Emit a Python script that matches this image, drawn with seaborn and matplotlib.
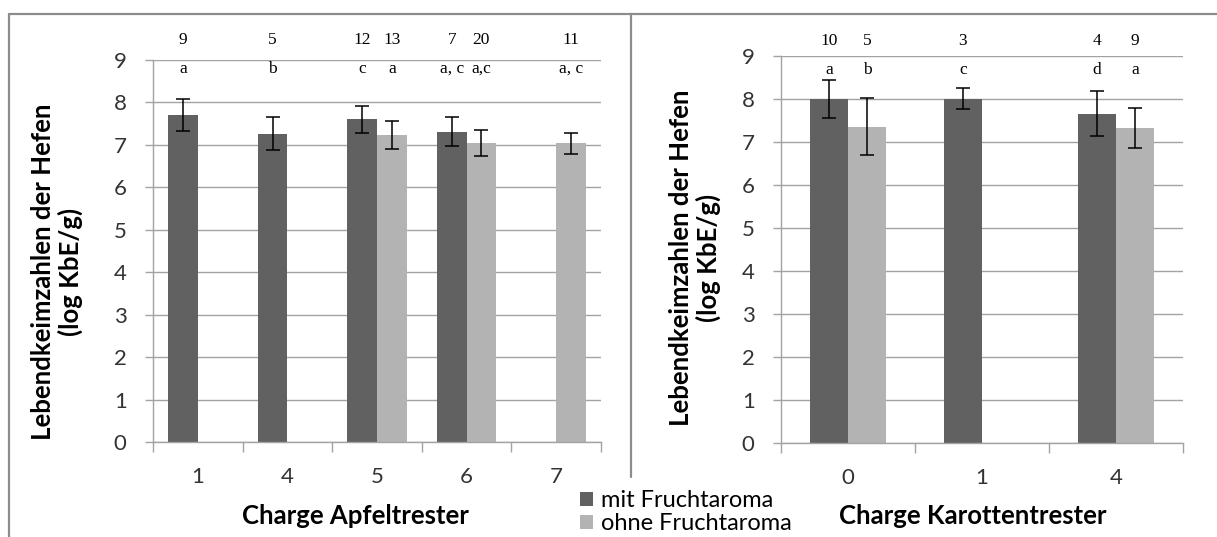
import numpy as np
import pandas as pd
import matplotlib
matplotlib.use("Agg")
import matplotlib.pyplot as plt
from matplotlib.lines import Line2D
import seaborn as sns

# ---- data -------------------------------------------------------------
aroma_levels = ["mit Fruchtaroma", "ohne Fruchtaroma"]

apfel_order = ["1", "4", "5", "6", "7"]
apfel_charge = ["1", "4", "5", "5", "6", "6", "7"]
apfel_aroma = ["mit Fruchtaroma", "mit Fruchtaroma", "mit Fruchtaroma", "ohne Fruchtaroma",
               "mit Fruchtaroma", "ohne Fruchtaroma", "ohne Fruchtaroma"]
apfel_mean = [7.70, 7.26, 7.60, 7.23, 7.31, 7.04, 7.04]
apfel_sd = [0.38, 0.39, 0.31, 0.33, 0.34, 0.31, 0.25]
apfel_n = ["9", "5", "12", "13", "7", "20", "11"]
apfel_sig = ["a", "b", "c", "a", "a, c", "a,c", "a, c"]

karotten_order = ["0", "1", "4"]
karotten_charge = ["0", "0", "1", "4", "4"]
karotten_aroma = ["mit Fruchtaroma", "ohne Fruchtaroma", "mit Fruchtaroma",
                  "mit Fruchtaroma", "ohne Fruchtaroma"]
karotten_mean = [8.00, 7.36, 8.01, 7.66, 7.33]
karotten_sd = [0.45, 0.66, 0.25, 0.53, 0.47]
karotten_n = ["10", "5", "3", "4", "9"]
karotten_sig = ["a", "b", "c", "d", "a"]

# ---- style ------------------------------------------------------------
sns.set_theme(style="white")
plt.rcParams["font.family"] = ["Lato", "DejaVu Sans"]

DARK = "#616161"
LIGHT = "#b3b3b3"
GRID = "#a3a3a3"
FRAME = "#8c8c8c"
TEXT = "#333333"
palette = dict(zip(aroma_levels, [DARK, LIGHT]))

W, H = 1217, 537
fig = plt.figure(figsize=(W / 100, H / 100), dpi=100)
fig.patch.set_facecolor("white")


def axes_px(x0, x1, y_top, y_bottom):
    return fig.add_axes([x0 / W, 1 - y_bottom / H, (x1 - x0) / W, (y_bottom - y_top) / H])


def draw_panel(ax, order, charge, aroma, mean, sd, n, sig, width, xlabel,
               n_y, sig_y, xlabel_xy, ylabel_xy):
    df = pd.DataFrame({"charge": charge, "aroma": aroma, "mean": mean})
    sns.barplot(data=df, x="charge", y="mean", hue="aroma", order=order,
                hue_order=aroma_levels, palette=palette, saturation=1,
                width=width, errorbar=None, linewidth=0, ax=ax, legend=True)

    # centre of every drawn bar, keyed by (category index, aroma)
    centres = {}
    for level, cont in zip(aroma_levels, ax.containers):
        for bar in cont:
            cx = bar.get_x() + bar.get_width() / 2
            centres[(int(round(cx)), level)] = cx
    xs = [centres[(order.index(c), a)] for c, a in zip(charge, aroma)]

    ax.errorbar(xs, mean, yerr=sd, fmt="none", ecolor="black",
                elinewidth=1.1, capsize=5, capthick=1.1, zorder=4)
    for x, t_n, t_s in zip(xs, n, sig):
        ax.text(x, n_y, t_n, ha="center", va="center", fontsize=12.5,
                family="Liberation Serif", color="black", clip_on=False)
        ax.text(x, sig_y, t_s, ha="center", va="center", fontsize=12.5,
                family="Liberation Serif", color="black", clip_on=False)

    ax.set_ylim(0, 9)
    ax.set_xlim(-0.5, len(order) - 0.5)
    ax.set_yticks(range(10))
    ax.set_xticks(np.arange(-0.5, len(order), 1.0), minor=True)
    ax.set_axisbelow(True)
    ax.yaxis.grid(True, color=GRID, linewidth=1)
    ax.xaxis.grid(False)
    for side in ("top", "right"):
        ax.spines[side].set_visible(False)
    for side in ("left", "bottom"):
        ax.spines[side].set_color(GRID)
        ax.spines[side].set_linewidth(1)
    ax.tick_params(axis="y", which="major", length=6, width=1, color=GRID,
                   direction="out", pad=13, labelsize=16, labelcolor=TEXT, left=True)
    ax.tick_params(axis="x", which="major", length=0, pad=18, labelsize=16,
                   labelcolor=TEXT)
    ax.tick_params(axis="x", which="minor", length=7, width=1, color=GRID,
                   direction="out", bottom=True)

    ax.set_xlabel(xlabel, fontsize=18.5, fontweight="bold", color="black")
    ax.xaxis.label.set_va("center")
    ax.xaxis.set_label_coords(*xlabel_xy)
    ax.set_ylabel("Lebendkeimzahlen der Hefen\n(log KbE/g)", fontsize=18.5,
                  fontweight="bold", color="black", linespacing=1.1)
    ax.yaxis.label.set_va("center")
    ax.yaxis.set_label_coords(*ylabel_xy)

    handles = ax.get_legend().legend_handles
    ax.get_legend().remove()
    return handles


ax_a = axes_px(153, 601, 60, 442)
handles = draw_panel(ax_a, apfel_order, apfel_charge, apfel_aroma, apfel_mean,
                     apfel_sd, apfel_n, apfel_sig, 0.66, "Charge Apfeltrester",
                     9.46, 8.79, (0.451, -0.194), (-0.214, 0.445))

ax_k = axes_px(781, 1183, 56, 443)
draw_panel(ax_k, karotten_order, karotten_charge, karotten_aroma, karotten_mean,
           karotten_sd, karotten_n, karotten_sig, 0.57, "Charge Karottentrester",
           9.35, 8.68, (0.478, -0.189), (-0.214, 0.478))

# chart frames
frame_kw = dict(transform=fig.transFigure, color=FRAME, linewidth=1.6)
fig.add_artist(Line2D([9 / W, 1], [1 - 14 / H, 1 - 14 / H], **frame_kw))
fig.add_artist(Line2D([9 / W, 9 / W], [1 - 14 / H, 0], **frame_kw))
fig.add_artist(Line2D([631 / W, 631 / W], [1 - 14 / H, 1 - 477 / H], **frame_kw))

fig.legend(handles, aroma_levels, loc="upper left",
           bbox_to_anchor=(566 / W, 1 - 476 / H), frameon=True,
           facecolor="white", edgecolor="none", fancybox=False, framealpha=1,
           borderpad=0.1, handlelength=0.55, handleheight=0.55,
           handletextpad=0.35, labelspacing=0.08, fontsize=17, labelcolor="black")

fig.savefig("out.png", dpi=100, facecolor="white")
